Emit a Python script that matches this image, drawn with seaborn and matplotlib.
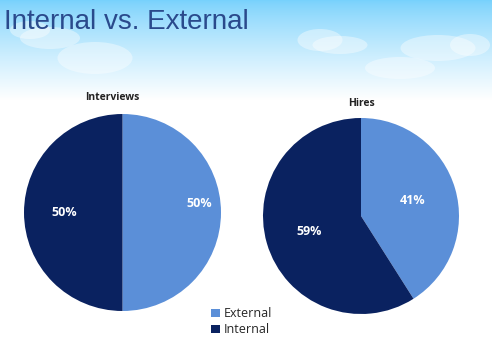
import numpy as np
import seaborn as sns
import matplotlib.pyplot as plt
from matplotlib.patches import Ellipse, Patch

sns.set_theme(style="white")
plt.rcParams['font.family'] = ['Liberation Sans', 'DejaVu Sans']

# data
labels = ["External", "Internal"]
interviews = [50, 50]
hires = [41, 59]

colors = ["#5b8fd8", "#0a2260"]

fig = plt.figure(figsize=(4.92, 3.56), dpi=100)

# sky background
bg = fig.add_axes([0, 0, 1, 1])
bg.set_xlim(0, 492)
bg.set_ylim(356, 0)
bg.axis('off')
grad = np.ones((356, 1, 3))
t = np.clip(np.linspace(0, 356, 356) / 100.0, 0, 1)[:, None] ** 0.8
top = np.array([0.47, 0.82, 0.99])
grad[:, 0, :] = top * (1 - t) + np.ones(3) * t
bg.imshow(grad, extent=[0, 492, 356, 0], aspect='auto', zorder=0)

# clouds
clouds = [(50, 38, 60, 22), (95, 58, 75, 32), (320, 40, 45, 22), (340, 45, 55, 18),
          (438, 48, 75, 26), (470, 45, 40, 22), (400, 68, 70, 22), (30, 30, 40, 18)]
for cx, cy, w, h in clouds:
    bg.add_patch(Ellipse((cx, cy), w, h, color='white', alpha=0.4, lw=0, zorder=1))

bg.text(4, 22, "Internal vs. External", fontsize=20, color="#2a4a8c",
        va='center', ha='left', zorder=2)


def draw_pie(rect, values, title, dists, title_xy):
    ax = fig.add_axes(rect)
    wedges, texts, autotexts = ax.pie(values, colors=colors, startangle=90,
                                      counterclock=False, autopct='%.0f%%',
                                      wedgeprops=dict(linewidth=0),
                                      textprops=dict(color='white', fontsize=9, fontweight='bold'))
    for w, at, d in zip(wedges, autotexts, dists):
        ang = np.deg2rad((w.theta1 + w.theta2) / 2)
        at.set_position((d[0] * np.cos(ang) + d[1], d[0] * np.sin(ang) + d[2]))
        at.set_family(['Open Sans', 'DejaVu Sans'])
    ax.set_xlim(-1, 1)
    ax.set_ylim(-1, 1)
    ax.set_aspect('equal')
    ax.text(title_xy[0], title_xy[1], title, ha='center', va='center', fontsize=7.5,
            fontweight='bold', color='#222222', family=['Open Sans', 'DejaVu Sans'])
    return ax


draw_pie([24 / 492, (356 - 311) / 356, 197 / 492, 197 / 356], interviews, "Interviews",
         [(0.78, 0, 0.09), (0.59, 0, 0)], (-0.1, 1.17))
draw_pie([263 / 492, (356 - 314) / 356, 196 / 492, 196 / 356], hires, "Hires",
         [(0.55, 0, 0), (0.55, 0, 0)], (0.01, 1.15))

handles = [Patch(facecolor=c, edgecolor='none') for c in colors]
fig.legend(handles, labels, loc='upper left', bbox_to_anchor=(200 / 492, 1 - 296 / 356),
           frameon=False, handlelength=0.7, handleheight=0.7,
           handletextpad=0.3, labelspacing=0.25,
           prop={'family': ['Open Sans', 'DejaVu Sans'], 'size': 9})

fig.savefig("out.png", dpi=100)
